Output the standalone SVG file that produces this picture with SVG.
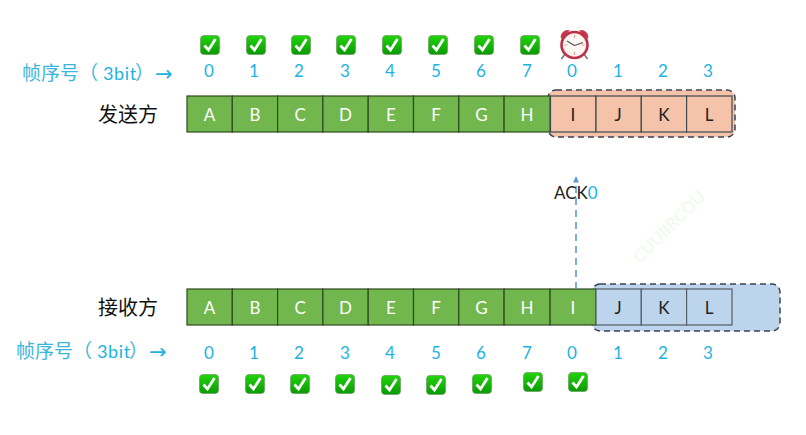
<svg xmlns="http://www.w3.org/2000/svg" xmlns:xlink="http://www.w3.org/1999/xlink" width="806" height="435" viewBox="0 0 806 435">
<style>
text{font-family:Lato,"Liberation Sans","Noto Sans CJK SC",sans-serif}
.g{fill:#72b64e;stroke:#2f4a20;stroke-width:1.2}
.p{fill:#f4c3aa;stroke:#3c4a50;stroke-width:1.2}
.b{fill:#bdd5ec;stroke:#555e66;stroke-width:1.2}
.w{fill:#fff;font-size:17px;text-anchor:middle}
.k{fill:#222;font-size:17px;text-anchor:middle}
.n{fill:#1db3e0;font-size:17px;text-anchor:middle}
.lab{fill:#3cb6dc;font-size:19px}
.lab tspan.d{font-size:18px;letter-spacing:.6px;fill:#1db3e0}
.arr{fill:#1db3e0;font-size:21px;font-family:"DejaVu Sans",sans-serif}
.who{fill:#111;font-size:20px;font-family:"Noto Sans CJK SC",sans-serif}
.win{stroke:#3a4154;stroke-width:1.5;stroke-dasharray:6 4}
</style>
<defs>
<linearGradient id="cg" x1="0" y1="0" x2="0" y2="1"><stop offset="0" stop-color="#22d40c"/><stop offset="1" stop-color="#0a9a04"/></linearGradient>
<radialGradient id="fc"><stop offset="0.75" stop-color="#fdf6f2"/><stop offset="1" stop-color="#f1d8d4"/></radialGradient>
<g id="chk"><rect x="-9.5" y="-9.5" width="19" height="19" rx="3.5" fill="url(#cg)" stroke="#6a9a60" stroke-width="0.7"/><path d="M-5.5 0.5L-1.5 5L5.5 -6" fill="none" stroke="#fff" stroke-width="2.8"/></g>
</defs>
<rect width="806" height="435" fill="#fff"/>
<g id="watermark"><text transform="translate(640,264) rotate(-45)" font-size="17" fill="#eefaeb">CUUIIRCOU</text></g>
<g id="sender">
<rect x="548" y="90" width="187" height="47" rx="8" fill="#f4c3aa" class="win"/>
<rect class="g" x="187" y="96" width="45.3" height="36"/><rect class="g" x="232.3" y="96" width="45.3" height="36"/><rect class="g" x="277.6" y="96" width="45.3" height="36"/><rect class="g" x="322.9" y="96" width="45.3" height="36"/><rect class="g" x="368.2" y="96" width="45.3" height="36"/><rect class="g" x="413.5" y="96" width="45.3" height="36"/><rect class="g" x="458.8" y="96" width="45.3" height="36"/><rect class="g" x="504.1" y="96" width="46" height="36"/>
<rect class="p" x="550.5" y="96" width="45.5" height="36"/><rect class="p" x="596" y="96" width="45.3" height="36"/><rect class="p" x="641.3" y="96" width="45.3" height="36"/><rect class="p" x="686.6" y="96" width="45.4" height="36"/>
<text class="w" x="209.600" y="121">A</text><text class="w" x="255" y="121">B</text><text class="w" x="300.200" y="121">C</text><text class="w" x="345.500" y="121">D</text><text class="w" x="390.800" y="121">E</text><text class="w" x="436.100" y="121">F</text><text class="w" x="481.500" y="121">G</text><text class="w" x="527" y="121">H</text>
<text class="k" x="573" y="121">I</text><text class="k" x="618" y="121">J</text><text class="k" x="664" y="121">K</text><text class="k" x="709" y="121">L</text>
<text class="who" x="98" y="122">发送方</text>
</g>
<g id="receiver">
<rect x="592" y="284" width="188" height="47" rx="8" fill="#bdd5ec" class="win"/>
<rect class="g" x="187" y="289" width="45.3" height="36"/><rect class="g" x="232.3" y="289" width="45.3" height="36"/><rect class="g" x="277.6" y="289" width="45.3" height="36"/><rect class="g" x="322.9" y="289" width="45.3" height="36"/><rect class="g" x="368.2" y="289" width="45.3" height="36"/><rect class="g" x="413.5" y="289" width="45.3" height="36"/><rect class="g" x="458.8" y="289" width="45.3" height="36"/><rect class="g" x="504.1" y="289" width="46" height="36"/><rect class="g" x="550.1" y="289" width="45.9" height="36"/>
<rect class="b" x="596" y="289" width="45.3" height="36"/><rect class="b" x="641.3" y="289" width="45.3" height="36"/><rect class="b" x="686.6" y="289" width="45.4" height="36"/>
<text class="w" x="209.600" y="314">A</text><text class="w" x="255" y="314">B</text><text class="w" x="300.200" y="314">C</text><text class="w" x="345.500" y="314">D</text><text class="w" x="390.800" y="314">E</text><text class="w" x="436.100" y="314">F</text><text class="w" x="481.500" y="314">G</text><text class="w" x="527" y="314">H</text><text class="w" x="573" y="314">I</text>
<text class="k" x="618" y="314">J</text><text class="k" x="664" y="314">K</text><text class="k" x="709" y="314">L</text>
<text class="who" x="98" y="315">接收方</text>
</g>
<g id="seq-top">
<text class="lab" x="22" y="80">帧序号（<tspan class="d" x="103">3bit</tspan><tspan x="135">）</tspan></text>
<text class="arr" x="155" y="81">→</text>
<text class="n" x="209" y="77">0</text><text class="n" x="254" y="77">1</text><text class="n" x="299" y="77">2</text><text class="n" x="345" y="77">3</text><text class="n" x="390" y="77">4</text><text class="n" x="436" y="77">5</text><text class="n" x="481" y="77">6</text><text class="n" x="527" y="77">7</text><text class="n" x="572" y="77">0</text><text class="n" x="618" y="77">1</text><text class="n" x="663" y="77">2</text><text class="n" x="708" y="77">3</text>
</g>
<g id="seq-bottom">
<text class="lab" x="16" y="358">帧序号（<tspan class="d" x="97">3bit</tspan><tspan x="129">）</tspan></text>
<text class="arr" x="149" y="359">→</text>
<text class="n" x="209" y="359">0</text><text class="n" x="254" y="359">1</text><text class="n" x="299" y="359">2</text><text class="n" x="345" y="359">3</text><text class="n" x="390" y="359">4</text><text class="n" x="436" y="359">5</text><text class="n" x="481" y="359">6</text><text class="n" x="527" y="359">7</text><text class="n" x="572" y="359">0</text><text class="n" x="618" y="359">1</text><text class="n" x="663" y="359">2</text><text class="n" x="708" y="359">3</text>
</g>
<g id="checks-top">
<use xlink:href="#chk" x="210" y="45"/><use xlink:href="#chk" x="256" y="45"/><use xlink:href="#chk" x="301" y="45"/><use xlink:href="#chk" x="346" y="45"/><use xlink:href="#chk" x="392" y="45"/><use xlink:href="#chk" x="438" y="45"/><use xlink:href="#chk" x="484" y="45"/><use xlink:href="#chk" x="530" y="45"/>
</g>
<g id="checks-bottom">
<use xlink:href="#chk" x="209" y="384"/><use xlink:href="#chk" x="255" y="384"/><use xlink:href="#chk" x="300" y="384"/><use xlink:href="#chk" x="345" y="384"/><use xlink:href="#chk" x="391" y="385"/><use xlink:href="#chk" x="436" y="385"/><use xlink:href="#chk" x="482" y="384"/><use xlink:href="#chk" x="533" y="382"/><use xlink:href="#chk" x="578" y="382"/>
</g>
<g id="alarm">
<path d="M565 54L561.500 59M584 54L587.500 59" stroke="#777" stroke-width="1.6"/>
<path d="M561 39A7 7 0 0 1 570 30.500Z" fill="#c8354a"/><path d="M588 39A7 7 0 0 0 579 30.500Z" fill="#c8354a"/>
<circle cx="574.500" cy="45" r="13" fill="url(#fc)" stroke="#bd2f47" stroke-width="2.6"/>
<path d="M574.500 35V38M574.500 52V55M564.500 45H567.500M581.500 45H584.500" stroke="#d2a0a0" stroke-width="1"/>
<path d="M574.500 45.500L567 41M574.500 45.500L583 42.500" stroke="#555" stroke-width="1.2" fill="none"/>
</g>
<g id="connectors">
<line x1="576" y1="289" x2="576" y2="182" stroke="#5b9bd5" stroke-width="1.6" stroke-dasharray="7 5"/>
<path d="M576 176L579 182.500H573Z" fill="#5b9bd5"/>
</g>
<g id="ack"><text x="554" y="199" font-size="17" fill="#222">ACK<tspan fill="#1db3e0">0</tspan></text></g>
</svg>
